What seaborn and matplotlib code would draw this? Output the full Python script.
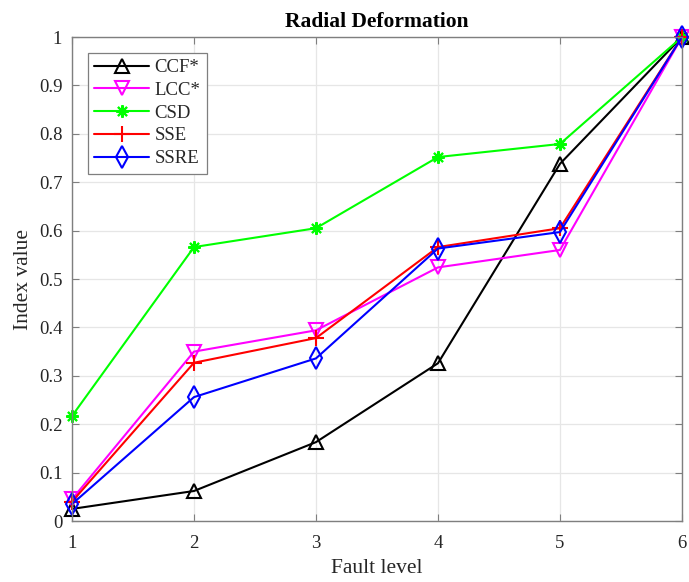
import numpy as np
import pandas as pd
import matplotlib
matplotlib.use("Agg")
import matplotlib.pyplot as plt
import seaborn as sns

fault_level = [1, 2, 3, 4, 5, 6]
ccf = [0.025, 0.062, 0.163, 0.326, 0.738, 1.0]
lcc = [0.045, 0.350, 0.394, 0.524, 0.560, 1.0]
csd = [0.217, 0.566, 0.605, 0.752, 0.779, 1.0]
sse = [0.040, 0.327, 0.378, 0.566, 0.605, 1.0]
ssre = [0.035, 0.256, 0.336, 0.563, 0.597, 1.0]

series_names = ["CCF*", "LCC*", "CSD", "SSE", "SSRE"]
series_vals = [ccf, lcc, csd, sse, ssre]
colors = ["#000000", "#FF00FF", "#00FF00", "#FF0000", "#0000FF"]
markers = ["^", "v", (8, 2, 0), "+", "d"]
msizes = [10.5, 10.5, 9, 11, 11]

yticks = [0, 0.1, 0.2, 0.3, 0.4, 0.5, 0.6, 0.7, 0.8, 0.9, 1]
ytick_labels = ["0", "0.1", "0.2", "0.3", "0.4", "0.5", "0.6", "0.7", "0.8", "0.9", "1"]

sns.set_theme(style="whitegrid")
plt.rcParams["font.family"] = ["Liberation Serif", "DejaVu Serif"]
plt.rcParams["mathtext.fontset"] = "stix"

fig = plt.figure(figsize=(6.89, 5.82), dpi=100)
ax = fig.add_axes([0.1045, 0.1048, 0.9898 - 0.1045, 0.9364 - 0.1048])

for name, vals, c, m, ms in zip(series_names, series_vals, colors, markers, msizes):
    df = pd.DataFrame({"Fault level": fault_level, "Index value": vals})
    sns.lineplot(data=df, x="Fault level", y="Index value", ax=ax, color=c,
                 marker=m, markersize=ms, markerfacecolor="none",
                 markeredgecolor=c, markeredgewidth=1.5, linewidth=1.5,
                 label=name, clip_on=False)

ax.set_xlim(1, 6)
ax.set_ylim(0, 1)
ax.set_xticks(fault_level)
ax.set_xticklabels([str(v) for v in fault_level])
ax.set_yticks(yticks)
ax.set_yticklabels(ytick_labels)

ax.set_facecolor("white")
ax.grid(True, color="#E6E6E6", linewidth=0.9)
for sp in ax.spines.values():
    sp.set_visible(True)
    sp.set_color("#7F7F7F")
    sp.set_linewidth(1.0)

ax.tick_params(axis="both", which="both", direction="in", length=5, width=0.8,
               color="#7F7F7F", labelsize=13.5, labelcolor="#262626",
               top=True, right=True, bottom=True, left=True)
ax.tick_params(axis="x", pad=10)
ax.tick_params(axis="y", pad=7)

ax.set_xlabel("Fault level", fontsize=15.5, color="#262626", labelpad=5)
ax.set_ylabel("Index value", fontsize=15.5, color="#262626", labelpad=4)
ax.set_title("Radial Deformation", fontsize=15.5, fontweight="bold", color="#000000", pad=7)

leg = ax.legend(loc="upper left", bbox_to_anchor=(0.026, 0.968), fontsize=13.5,
                frameon=True, fancybox=False, framealpha=1, edgecolor="#7F7F7F",
                handlelength=2.9, handletextpad=0.3, borderpad=0.35,
                labelspacing=0.3, borderaxespad=0)
leg.get_frame().set_linewidth(0.9)

fig.savefig("out.png", dpi=100)
